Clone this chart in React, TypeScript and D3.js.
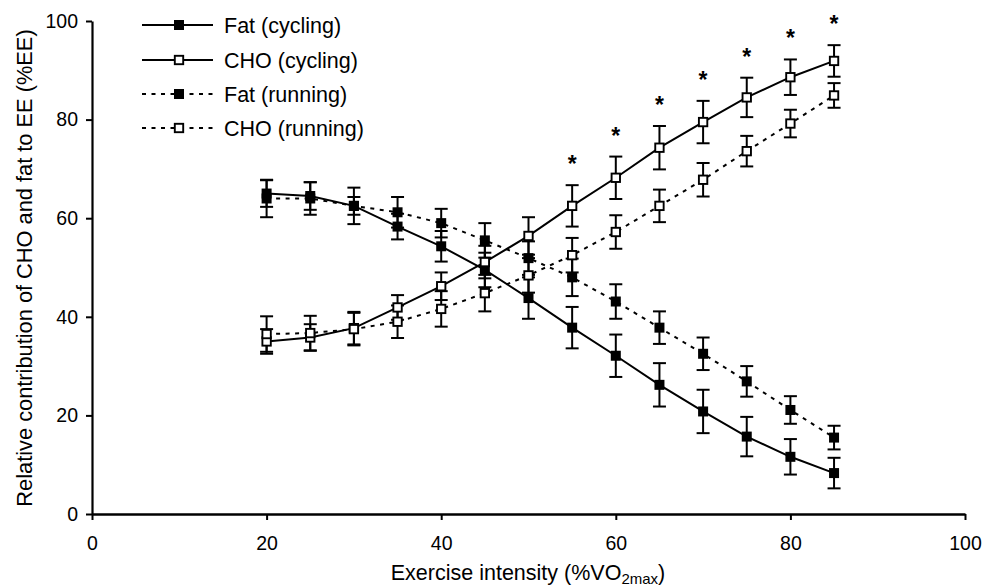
import React, { useEffect, useRef } from "react";
import * as d3 from "d3";

const intensity = [20, 25, 30, 35, 40, 45, 50, 55, 60, 65, 70, 75, 80, 85];
const fatCycling = [65, 64.5, 62.5, 58.3, 54.3, 49.5, 43.8, 37.8, 32.1, 26.2, 20.8, 15.7, 11.6, 8.3];
const fatCyclingErr = [2.7, 2.8, 3.7, 2.6, 3.1, 3.5, 4.2, 4.2, 4.3, 4.4, 4.4, 4.0, 3.6, 3.1];
const choCycling = [35, 35.8, 37.7, 41.9, 46.2, 51.1, 56.4, 62.5, 68.2, 74.3, 79.5, 84.5, 88.6, 91.9];
const choCyclingErr = [2.5, 2.7, 3.3, 2.5, 2.8, 3.3, 3.8, 4.2, 4.3, 4.4, 4.3, 4.0, 3.6, 3.2];
const fatRunning = [64, 64, 62.5, 61.2, 59, 55.5, 51.9, 48, 43.1, 37.8, 32.5, 26.9, 21.1, 15.5];
const fatRunningErr = [3.8, 3.3, 1.8, 3.1, 2.9, 3.5, 3.4, 3.8, 3.5, 3.3, 3.3, 3.1, 2.8, 2.4];
const choRunning = [36.5, 36.7, 37.5, 39, 41.6, 44.8, 48.4, 52.5, 57.2, 62.5, 67.8, 73.6, 79.2, 84.9];
const choRunningErr = [3.6, 3.5, 3.3, 3.3, 3.6, 3.7, 3.5, 3.5, 3.4, 3.3, 3.4, 3.1, 2.8, 2.5];
const significant = [55, 60, 65, 70, 75, 80, 85];
const xTicks = [0, 20, 40, 60, 80, 100];
const yTicks = [0, 20, 40, 60, 80, 100];

const seriesNames = ["Fat (cycling)", "CHO (cycling)", "Fat (running)", "CHO (running)"];

const FONT = "'Liberation Sans', Arial, Helvetica, sans-serif";
const W = 997;
const H = 587;

const x = d3.scaleLinear().domain([0, 100]).range([92, 965]);
const y = d3.scaleLinear().domain([0, 100]).range([514, 21]);

type Series = {
  name: string;
  values: number[];
  errs: number[];
  filled: boolean;
  dashed: boolean;
};

const series: Series[] = [
  { name: seriesNames[0], values: fatCycling, errs: fatCyclingErr, filled: true, dashed: false },
  { name: seriesNames[1], values: choCycling, errs: choCyclingErr, filled: false, dashed: false },
  { name: seriesNames[2], values: fatRunning, errs: fatRunningErr, filled: true, dashed: true },
  { name: seriesNames[3], values: choRunning, errs: choRunningErr, filled: false, dashed: true },
];

const DASH = "4,5.5";
const CAP = 6.5;

function Marker({ cx, cy, filled }: { cx: number; cy: number; filled: boolean }) {
  if (filled) {
    return <rect x={cx - 5} y={cy - 5} width={10} height={10} fill="#000" />;
  }
  return (
    <rect x={cx - 4.2} y={cy - 4.2} width={8.4} height={8.4} fill="#fff" stroke="#000" strokeWidth={1.9} />
  );
}

export default function App() {
  const xAxisRef = useRef<SVGGElement>(null);
  const yAxisRef = useRef<SVGGElement>(null);

  useEffect(() => {
    if (xAxisRef.current) {
      const g = d3.select(xAxisRef.current);
      g.call(d3.axisBottom(x).tickValues(xTicks).tickSize(6).tickSizeOuter(0).tickPadding(16));
      g.select(".domain").attr("stroke-width", 2.4).attr("stroke", "#000");
      g.selectAll(".tick line").attr("stroke-width", 2).attr("stroke", "#000");
      g.selectAll(".tick text")
        .attr("font-family", FONT)
        .attr("font-size", 19.5)
        .attr("fill", "#000");
    }
    if (yAxisRef.current) {
      const g = d3.select(yAxisRef.current);
      g.call(d3.axisLeft(y).tickValues(yTicks).tickSize(6).tickSizeOuter(0).tickPadding(8));
      g.select(".domain").attr("stroke-width", 2.2).attr("stroke", "#000");
      g.selectAll(".tick line").attr("stroke-width", 2).attr("stroke", "#000");
      g.selectAll(".tick text")
        .attr("font-family", FONT)
        .attr("font-size", 19.5)
        .attr("fill", "#000");
    }
  }, []);

  const line = d3
    .line<number>()
    .x((_, i) => x(intensity[i]))
    .y((d) => y(d));

  const legendRows = [25, 60, 94, 128];

  return (
    <div style={{ position: "absolute", left: 0, top: 0 }}>
      <svg width={W} height={H} viewBox={`0 0 ${W} ${H}`} style={{ display: "block", background: "#fff" }}>
        <rect x={0} y={0} width={W} height={H} fill="#fff" />
        <g ref={yAxisRef} transform={`translate(${x(0)},0)`} />
        <g ref={xAxisRef} transform={`translate(0,${y(0)})`} />

        {/* lines */}
        {series.map((s) => (
          <path
            key={s.name + "-line"}
            d={line(s.values) || ""}
            fill="none"
            stroke="#000"
            strokeWidth={2}
            strokeDasharray={s.dashed ? DASH : undefined}
          />
        ))}

        {/* error bars */}
        {series.map((s) => (
          <g key={s.name + "-err"} stroke="#000" strokeWidth={2}>
            {s.values.map((v, i) => {
              const cx = x(intensity[i]);
              const top = y(v + s.errs[i]);
              const bot = y(v - s.errs[i]);
              return (
                <g key={i}>
                  <line x1={cx} x2={cx} y1={top} y2={bot} />
                  <line x1={cx - CAP} x2={cx + CAP} y1={top} y2={top} />
                  <line x1={cx - CAP} x2={cx + CAP} y1={bot} y2={bot} />
                </g>
              );
            })}
          </g>
        ))}

        {/* markers */}
        {series.map((s) => (
          <g key={s.name + "-mk"}>
            {s.values.map((v, i) => (
              <Marker key={i} cx={x(intensity[i])} cy={y(v)} filled={s.filled} />
            ))}
          </g>
        ))}

        {/* significance stars */}
        {significant.map((t) => {
          const i = intensity.indexOf(t);
          const top = y(choCycling[i] + choCyclingErr[i]);
          return (
            <text
              key={"star" + t}
              x={x(t)}
              y={top - 26 + 13}
              textAnchor="middle"
              fontFamily={FONT}
              fontSize={23}
              fontWeight="bold"
              fill="#000"
            >
              *
            </text>
          );
        })}

        {/* legend */}
        {series.map((s, k) => {
          const ly = legendRows[k];
          return (
            <g key={s.name + "-lg"}>
              <line
                x1={142}
                x2={213}
                y1={ly}
                y2={ly}
                stroke="#000"
                strokeWidth={2}
                strokeDasharray={s.dashed ? DASH : undefined}
              />
              <Marker cx={179} cy={ly} filled={s.filled} />
              <text x={224} y={ly} dy="0.36em" fontFamily={FONT} fontSize={21.5} fill="#000">
                {s.name}
              </text>
            </g>
          );
        })}

        {/* axis titles */}
        <text
          transform={`translate(32,268) rotate(-90)`}
          textAnchor="middle"
          fontFamily={FONT}
          fontSize={21.8}
          fill="#000"
        >
          Relative contribution of CHO and fat to EE (%EE)
        </text>
        <text x={528} y={580} textAnchor="middle" fontFamily={FONT} fontSize={21.5} fill="#000">
          Exercise intensity (%VO
          <tspan fontSize={15} dy={3.5}>
            2max
          </tspan>
          <tspan dy={-3.5}>)</tspan>
        </text>
      </svg>
    </div>
  );
}
